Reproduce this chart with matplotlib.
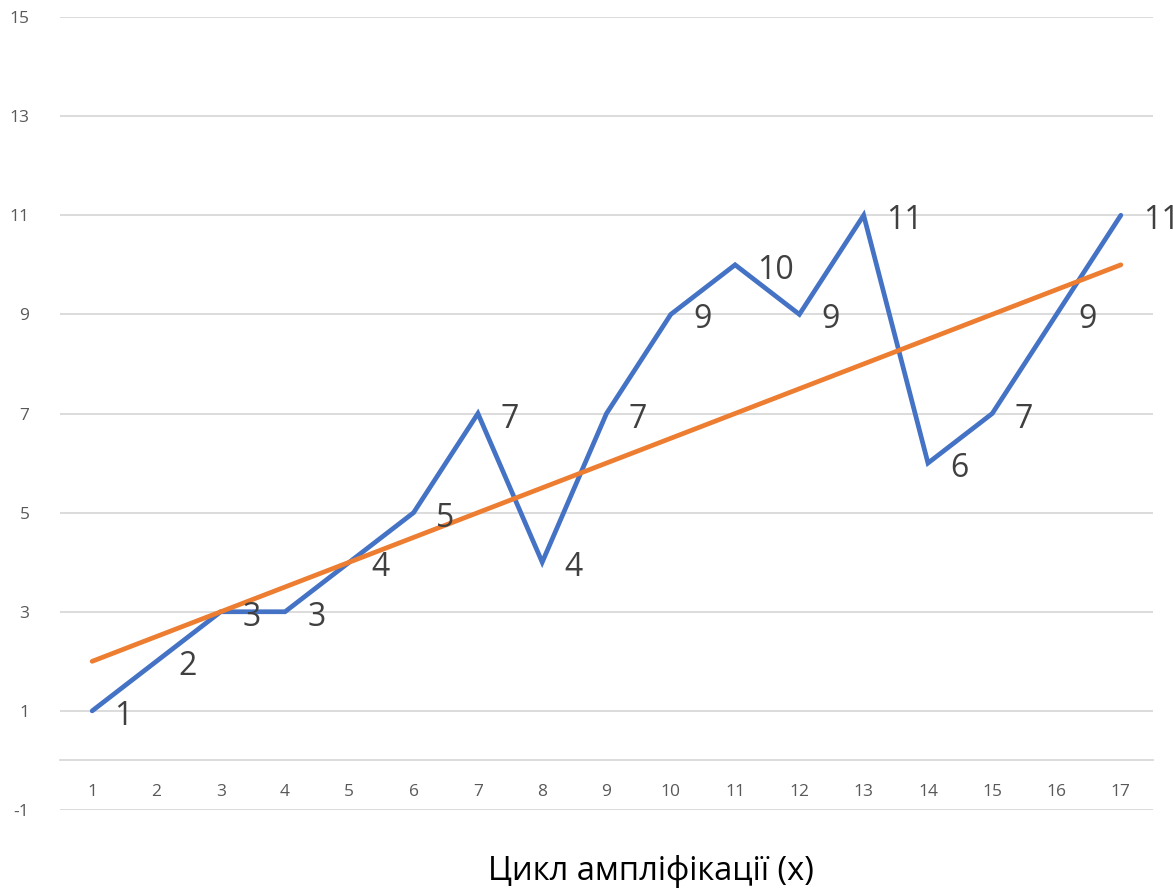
import matplotlib.pyplot as plt

plt.rcParams['font.family'] = ['Open Sans', 'DejaVu Sans']
plt.rcParams['axes.unicode_minus'] = False

cycles = list(range(1, 18))
values = [1, 2, 3, 3, 4, 5, 7, 4, 7, 9, 10, 9, 11, 6, 7, 9, 11]
trend = [2, 2.5, 3, 3.5, 4, 4.5, 5, 5.5, 6, 6.5, 7, 7.5, 8, 8.5, 9, 9.5, 10]
y_ticks = [-1, 1, 3, 5, 7, 9, 11, 13, 15]
x_label = "Цикл ампліфікації (x)"

fig = plt.figure(figsize=(11.73, 8.91), dpi=100)
ax = fig.add_axes([60 / 1173, 1 - 810 / 891, 1093 / 1173, 793 / 891])

# lines
ax.plot(cycles, values, color='#4472C4', lw=3.4, solid_capstyle='round',
        solid_joinstyle='miter', zorder=3)
ax.plot(cycles, trend, color='#ED7D31', lw=3.4, solid_capstyle='round', zorder=4)

# data labels right of each point
for x, v in zip(cycles, values):
    ax.annotate(str(v), (x, v), xytext=(16, -4), textcoords='offset points',
                ha='left', va='center', fontsize=23, color='#404040', zorder=5,
                annotation_clip=False)

ax.set_xlim(0.5, 17.5)
ax.set_ylim(-1, 15)
ax.set_yticks(y_ticks)
ax.set_xticks(cycles)
ax.grid(axis='y', color='#D9D9D9', lw=1.3)
ax.set_axisbelow(True)

for s in ['top', 'right', 'left']:
    ax.spines[s].set_visible(False)
ax.spines['bottom'].set_position(('data', 0))
ax.spines['bottom'].set_color('#D9D9D9')
ax.spines['bottom'].set_linewidth(1.3)

ax.tick_params(axis='y', length=0, pad=22, labelsize=12.5, labelcolor='#595959')
ax.tick_params(axis='x', length=0, pad=17, labelsize=12.5, labelcolor='#595959')

fig.text(651 / 1173, 1 - 872 / 891, x_label, ha='center', va='center',
         fontsize=23.5, color='#000000')

fig.savefig('out.png', dpi=100)
